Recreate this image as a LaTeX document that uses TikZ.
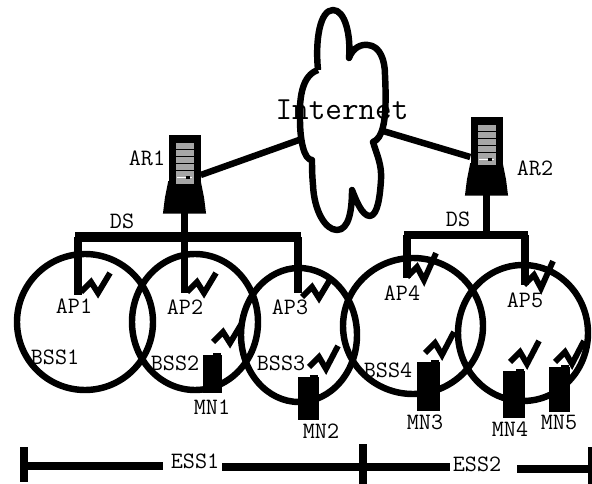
\documentclass[tikz,border=0pt]{standalone}
\usepackage{tikz}
\usetikzlibrary{shapes.geometric}

\begin{document}
\begin{tikzpicture}[
  x=0.03cm, y=-0.03cm,
  font=\fontsize{20}{22}\ttfamily,
  bss/.style={draw, ellipse, line width=5.5pt, inner sep=0},
  srv/.style={fill=black, minimum width=0.96cm, minimum height=1.86cm, inner sep=0},
  panel/.style={fill=black!35, minimum width=0.54cm, minimum height=1.2cm, inner sep=0},
  mobile/.style={fill=black, inner sep=0},
  wire/.style={line width=5.5pt},
  bus/.style={line width=6.5pt},
  bolt/.style={line width=5pt, miter limit=4},
  ess/.style={line width=6pt},
]
\useasboundingbox (0,0) rectangle (592,484);
% BSS circles
\node[bss, minimum width=4.08cm, minimum height=4.08cm] (bss1) at (85,322) {};
\node[bss, minimum width=3.78cm, minimum height=4.08cm] (bss2) at (195,322) {};
\node[bss, minimum width=3.48cm, minimum height=4.02cm] (bss3) at (299,335) {};
\node[bss, minimum width=4.2cm, minimum height=4.08cm] (bss4) at (413,326) {};
\node[bss, minimum width=3.9cm, minimum height=4.08cm] (bss5) at (523,333) {};
% Cloud
\draw[line width=5.5pt, line join=round, fill=white] (318,70)
  .. controls (315,40) and (320,10) .. (333,10)
  .. controls (345,10) and (351,35) .. (349,58)
  .. controls (353,47) and (362,44) .. (368,45)
  .. controls (380,46) and (385,60) .. (385,75)
  .. controls (386,95) and (386,115) .. (383,127)
  .. controls (381,135) and (378,140) .. (373,142)
  .. controls (377,155) and (382,165) .. (381,180)
  .. controls (380,195) and (378,215) .. (370,216)
  .. controls (362,216) and (356,200) .. (352,190)
  .. controls (352,210) and (349,230) .. (337,230)
  .. controls (325,230) and (314,210) .. (313,185)
  .. controls (312,175) and (312,165) .. (312,160)
  .. controls (304,160) and (300,140) .. (300,120)
  .. controls (299,95) and (303,75) .. (318,70);
\node[font=\fontsize{27.5}{30}\ttfamily] (inet) at (342,110) {Internet};
\coordinate (inetl) at (299,140);
\coordinate (inetr) at (383,131);
% Routers
\foreach \name/\px/\py in {ar1/184.5/166.5, ar2/486.5/148.5} {
  \node[srv] (\name) at (\px,\py) {};
  \fill ([xshift=-0.1cm]\name.south west) -- ([yshift=0.5cm]\name.south west)
    -- ([yshift=0.5cm]\name.south east) -- ([xshift=0.1cm]\name.south east)
    -- ([xshift=0.16cm,yshift=-0.48cm]\name.south east)
    -- ([xshift=-0.16cm,yshift=-0.48cm]\name.south west) -- cycle;
  \node[panel] (\name p) at (\px,\py-3) {};
  \foreach \k in {-14,-7,0,7} \draw[line width=0.7pt] (\px-9,\py-3+\k) -- (\px+9,\py-3+\k);
  \draw[white, line width=1.2pt] (\px-8,\py+11) -- (\px+7,\py+11);
  \fill[black] (\px+1,\py+9.5) rectangle (\px+5,\py+12.5);
}
\draw[wire] (ar1.east |- 0,175) -- (inetl);
\draw[wire] (inetr) -- (ar2.west |- 0,157);
\node (ar1t) at (147,158) {AR1};
\node (ar2t) at (535,168) {AR2};
% DS lines
\coordinate (ds1l) at (78,237);
\coordinate (ds1r) at (298,237);
\coordinate (ds2l) at (407,235);
\coordinate (ds2r) at (525,235);
\draw[bus, line width=8pt] ([xshift=-0.09cm]ds1l) -- ([xshift=0.09cm]ds1r);
\draw[bus, line width=6pt] ([xshift=-0.09cm]ds2l) -- ([xshift=0.09cm]ds2r);
\draw[bus] (ds1l) -- (78,295);
\draw[bus] (ds1r) -- (298,293);
\draw[bus] (184.5,210) -- (184.5,293);
\draw[bus] (ds2l) -- (407,278);
\draw[bus] (ds2r) -- (525,285);
\draw[bus] (486.5,190) -- (486.5,235);
\node (ds1t) at (122,221) {DS};
\node (ds2t) at (458,219) {DS};
% Wireless marks
\foreach \sx/\sy/\ex in {81/292/0, 187/292/0, 302/297/0, 407/277/7, 524/285/7,
    213/342/0, 309/367/3, 425/353/3, 510/362/3, 555/362/3} {
  \draw[bolt] (\sx,\sy) -- ++(10,-10) -- ++(7,11+\ex*0.3) -- ++(12,-20-\ex);
}
% Mobile nodes
\foreach \name/\px/\py/\w/\h in {mn1/212.5/374/0.57cm/1.14cm, mn2/308.5/398.5/0.63cm/1.29cm,
    mn3/428.5/386.5/0.69cm/1.47cm, mn4/514/394.5/0.66cm/1.41cm, mn5/559.5/389.5/0.63cm/1.35cm} {
  \node[mobile, minimum width=\w, minimum height=\h] (\name) at (\px,\py) {};
  \fill ([xshift=-0.27cm]\name.north east) rectangle ([xshift=-0.03cm,yshift=0.06cm]\name.north east);
}
% Labels
\node (ap1) at (74,306) {AP1};
\node (ap2) at (185,307) {AP2};
\node (ap3) at (290,307) {AP3};
\node (ap4) at (402,293) {AP4};
\node (ap5) at (525,300) {AP5};
\node (bss1t) at (55,357) {BSS1};
\node (bss2t) at (175,363) {BSS2};
\node (bss3t) at (281,363) {BSS3};
\node (bss4t) at (388,370) {BSS4};
\node (mn1t) at (212,407) {MN1};
\node (mn2t) at (321,431) {MN2};
\node (mn3t) at (425,422) {MN3};
\node (mn4t) at (510,429) {MN4};
\node (mn5t) at (559,422) {MN5};
% ESS line
\node (ess1) at (195,461) {ESS1};
\node (ess2) at (477,464) {ESS2};
\coordinate (e0) at (24,466);
\coordinate (e1) at (363,467);
\coordinate (e2) at (590,469);
\draw[ess] (e0) -- (163,466);
\draw[ess] (222,467) -- (e1) -- (450,467);
\draw[ess] (517,469) -- (e2);
\draw[ess, line width=6.5pt] (24,447) -- (24,482);
\draw[ess, line width=6.5pt] (e1 |- 0,444) -- (e1 |- 0,484);
\draw[ess, line width=4pt] (e2 |- 0,447) -- (e2 |- 0,484);
\end{tikzpicture}
\end{document}
